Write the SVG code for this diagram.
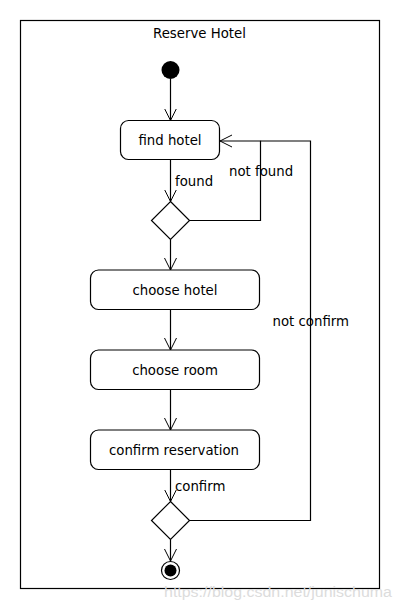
<svg xmlns="http://www.w3.org/2000/svg" width="400" height="610" viewBox="0 0 400 610">
<defs>
<marker id="arr" markerWidth="14" markerHeight="14" refX="12" refY="7" orient="auto" markerUnits="userSpaceOnUse">
<path d="M0,1 L12,7 L0,13" fill="none" stroke="#000" stroke-width="1"/>
</marker>
<style>
.box{fill:#fff;stroke:#000;stroke-width:1.2}
.t{font-family:"DejaVu Sans",sans-serif;font-size:13.3px;fill:#000}
.c{text-anchor:middle}
.ln{fill:none;stroke:#000;stroke-width:1.2}
</style>
</defs>
<rect width="400" height="610" fill="#fff"/>
<g id="frame">
<rect x="20.5" y="20.5" width="359" height="568" fill="none" stroke="#000" stroke-width="1.2"/>
<text class="t c" x="199.5" y="37.5">Reserve Hotel</text>
</g>
<g id="connectors">
<line class="ln" x1="170.5" y1="79" x2="170.5" y2="120.5" marker-end="url(#arr)"/>
<line class="ln" x1="170.5" y1="159.5" x2="170.5" y2="201.5" marker-end="url(#arr)"/>
<polyline class="ln" points="189.5,220.5 260.5,220.5 260.5,141 220,141" marker-end="url(#arr)"/>
<line class="ln" x1="170.5" y1="239.5" x2="170.5" y2="270" marker-end="url(#arr)"/>
<line class="ln" x1="170.5" y1="309.5" x2="170.5" y2="350" marker-end="url(#arr)"/>
<line class="ln" x1="170.5" y1="389.5" x2="170.5" y2="430" marker-end="url(#arr)"/>
<line class="ln" x1="170.5" y1="469.5" x2="170.5" y2="501.5" marker-end="url(#arr)"/>
<polyline class="ln" points="189.5,520.5 310.5,520.5 310.5,141 260.5,141"/>
<line class="ln" x1="170.5" y1="539.5" x2="170.5" y2="561" marker-end="url(#arr)"/>
<text class="t" x="175" y="185.5">found</text>
<text class="t" x="229" y="176">not found</text>
<text class="t" x="272.5" y="326">not confirm</text>
<text class="t" x="175" y="491">confirm</text>
</g>
<g id="start"><circle cx="170.5" cy="70" r="9" fill="#000"/></g>
<g id="findHotel">
<rect class="box" x="120.5" y="120.5" width="99" height="39" rx="8"/>
<text class="t c" x="170" y="145">find hotel</text>
</g>
<g id="decision1"><polygon class="box" points="170.5,201.5 189.5,220.5 170.5,239.5 151.5,220.5"/></g>
<g id="chooseHotel">
<rect class="box" x="90.5" y="270" width="169" height="39.5" rx="8"/>
<text class="t c" x="175" y="295">choose hotel</text>
</g>
<g id="chooseRoom">
<rect class="box" x="90.5" y="350" width="169" height="39.5" rx="8"/>
<text class="t c" x="175" y="375">choose room</text>
</g>
<g id="confirmReservation">
<rect class="box" x="90.5" y="430" width="169" height="39.5" rx="8"/>
<text class="t c" x="174" y="455">confirm reservation</text>
</g>
<g id="decision2"><polygon class="box" points="170.5,501.5 189.5,520.5 170.5,539.5 151.5,520.5"/></g>
<g id="end">
<circle cx="170.5" cy="570.5" r="9" fill="#fff" stroke="#000" stroke-width="1.2"/>
<circle cx="170.5" cy="570.5" r="6" fill="#000"/>
</g>
<text x="164" y="597" font-family="Liberation Sans, sans-serif" font-size="14" fill="#dcdcdc" textLength="228" lengthAdjust="spacingAndGlyphs">https://blog.csdn.net/junischuma</text>
</svg>
